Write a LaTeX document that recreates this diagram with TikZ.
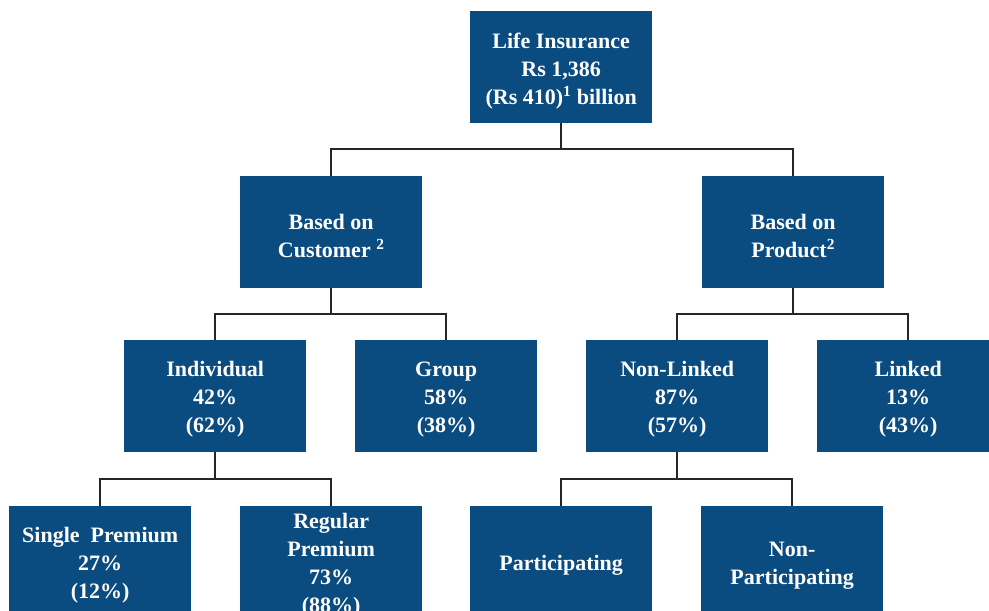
\documentclass[tikz,border=0pt]{standalone}
\usepackage{fontspec}
\setmainfont{Liberation Serif}
\definecolor{boxblue}{RGB}{11,76,128}
\begin{document}
\begin{tikzpicture}[x=1pt,y=-1pt,
  box/.style={fill=boxblue, minimum width=182pt, minimum height=112pt, inner sep=0pt, anchor=north west},
  txt/.style={text=white, font=\bfseries\fontsize{22}{28}\selectfont, align=center, inner sep=0pt, yshift=-3.5pt},
  conn/.style={draw=black!85, line width=1.5pt}]
\useasboundingbox (0,0) rectangle (989,611);
\clip (0,0) rectangle (989,611);
\node[box, label={[txt]center:Life Insurance\\Rs 1,386\\(Rs 410)\textsuperscript{1} billion}] (top) at (470,11) {};
\node[box, label={[txt]center:Based on\\Customer \textsuperscript{2}}] (cust) at (240,176) {};
\node[box, label={[txt]center:Based on\\Product\textsuperscript{2}}] (prod) at (702,176) {};
\node[box, label={[txt]center:Individual\\42\%\\(62\%)}] (ind) at (124,340) {};
\node[box, label={[txt]center:Group\\58\%\\(38\%)}] (grp) at (355,340) {};
\node[box, label={[txt]center:Non-Linked\\87\%\\(57\%)}] (nonl) at (586,340) {};
\node[box, label={[txt]center:Linked\\13\%\\(43\%)}] (lnk) at (817,340) {};
\node[box, label={[txt]center:Single~ Premium\\27\%\\(12\%)}] (sgl) at (9,506) {};
\node[box, label={[txt]center:Regular\\Premium\\73\%\\(88\%)}] (reg) at (240,506) {};
\node[box, label={[txt]center:Participating}] (par) at (470,506) {};
\node[box, label={[txt]center:Non-\\Participating}] (npar) at (701,506) {};
% connectors
\draw[conn] (top.south) -- ++(0,26);
\draw[conn] (cust.north) -- ++(0,-27) -| (prod.north);
\draw[conn] (cust.south) -- ++(0,25);
\draw[conn] (ind.north) -- ++(0,-26) -| (grp.north);
\draw[conn] (prod.south) -- ++(0,25);
\draw[conn] (nonl.north) -- ++(0,-26) -| (lnk.north);
\draw[conn] (ind.south) -- ++(0,26);
\draw[conn] (sgl.north) -- ++(0,-27) -| (reg.north);
\draw[conn] (nonl.south) -- ++(0,26);
\draw[conn] (par.north) -- ++(0,-27) -| (npar.north);
\end{tikzpicture}
\end{document}
